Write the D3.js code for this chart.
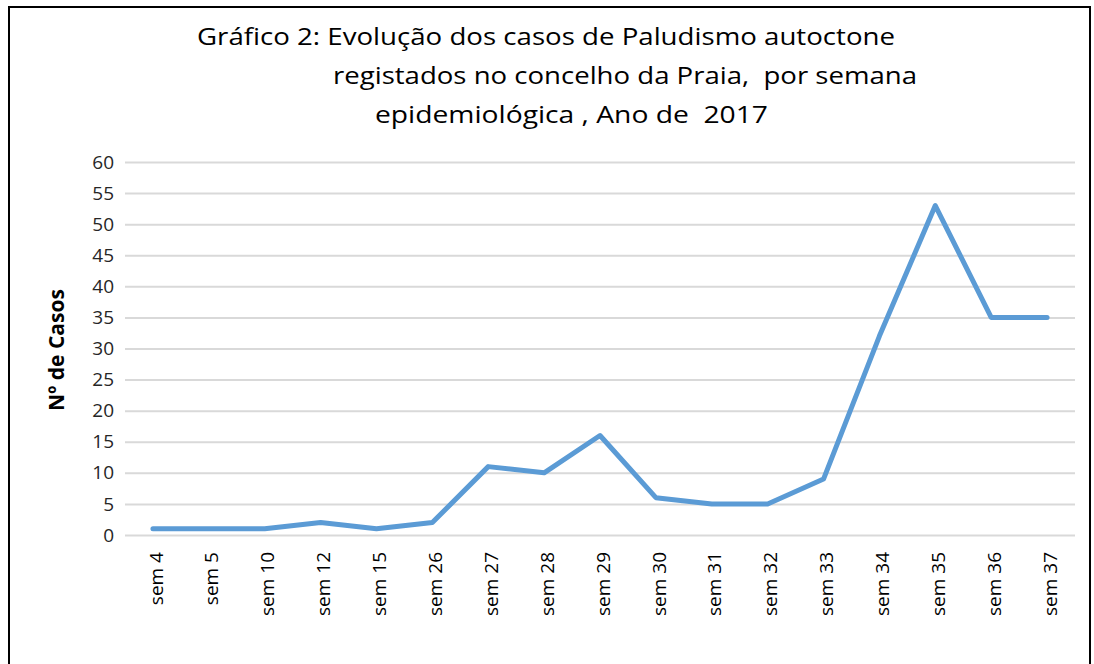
<!DOCTYPE html>
<html>
<head>
<meta charset="utf-8">
<script src="https://cdn.jsdelivr.net/npm/d3@7"></script>
<style>
  body { margin: 0; background: #fff; }
  svg { display: block; font-family: "Open Sans", "Liberation Sans", sans-serif; }
  .title text { white-space: pre; }
</style>
</head>
<body>
<svg id="chart"></svg>
<script>
let width = 1094, height = 664;

// dados
let semanas = ['sem 4','sem 5','sem 10','sem 12','sem 15','sem 26','sem 27','sem 28','sem 29',
               'sem 30','sem 31','sem 32','sem 33','sem 34','sem 35','sem 36','sem 37'];
let casos = [1, 1, 1, 2, 1, 2, 11, 10, 16, 6, 5, 5, 9, 32, 53, 35, 35];
let yTicks = [0, 5, 10, 15, 20, 25, 30, 35, 40, 45, 50, 55, 60];
let titleLines = [
    'Gráfico 2: Evolução dos casos de Paludismo autoctone',
    'registados no concelho da Praia,  por semana',
    'epidemiológica , Ano de  2017'
];

let margin = {left: 125, right: 1075, top: 162, bottom: 535};

let svg = d3.select('#chart').attr('width', width).attr('height', height);

// moldura
svg.append('path')
    .attr('d', `M9,${height + 5} V7 H1090 V${height + 5}`)
    .attr('fill', 'none')
    .attr('stroke', '#000')
    .attr('stroke-width', 2);

// título
let titlePos = [[197, 45, 698], [333, 84, 584], [375, 123, 393]];
svg.append('g').attr('class', 'title').selectAll('text')
    .data(titleLines)
    .join('text')
    .attr('x', (d, i) => titlePos[i][0])
    .attr('y', (d, i) => titlePos[i][1])
    .attr('textLength', (d, i) => titlePos[i][2])
    .attr('lengthAdjust', 'spacingAndGlyphs')
    .attr('font-size', 24)
    .attr('fill', '#000')
    .text(d => d);

let x = d3.scaleBand().domain(semanas).range([margin.left, margin.right]);
let y = d3.scaleLinear().domain([0, 60]).range([margin.bottom, margin.top]);

// grelha
let yAxis = svg.append('g')
    .attr('transform', `translate(${margin.left},0)`)
    .call(d3.axisLeft(y).tickValues(yTicks).tickSize(-(margin.right - margin.left)).tickPadding(11));
yAxis.select('.domain').remove();
yAxis.selectAll('.tick line').attr('stroke', '#d9d9d9').attr('stroke-width', 2);
yAxis.selectAll('.tick text')
    .attr('font-size', 19)
    .attr('font-family', '"Open Sans", "Liberation Sans", sans-serif')
    .attr('fill', '#262626');

// eixo x
let xAxis = svg.append('g')
    .attr('transform', `translate(0,${margin.bottom})`)
    .call(d3.axisBottom(x).tickSize(0));
xAxis.select('.domain').remove();
xAxis.selectAll('.tick text')
    .attr('font-size', 19)
    .attr('font-family', '"Open Sans", "Liberation Sans", sans-serif')
    .attr('fill', '#000')
    .attr('text-anchor', 'end')
    .attr('dy', '0.35em')
    .attr('transform', 'translate(0,17) rotate(-90)');

// título eixo y
svg.append('text')
    .attr('transform', 'translate(64,350) rotate(-90)')
    .attr('text-anchor', 'middle')
    .attr('font-size', 21)
    .attr('font-weight', 'bold')
    .attr('fill', '#000')
    .text('Nº de Casos');

// linha
let line = d3.line()
    .x((d, i) => x(semanas[i]) + x.bandwidth() / 2)
    .y(d => y(d));
svg.append('path')
    .datum(casos)
    .attr('d', line)
    .attr('fill', 'none')
    .attr('stroke', '#5b9bd5')
    .attr('stroke-width', 5)
    .attr('stroke-linejoin', 'round')
    .attr('stroke-linecap', 'round');
</script>
</body>
</html>
